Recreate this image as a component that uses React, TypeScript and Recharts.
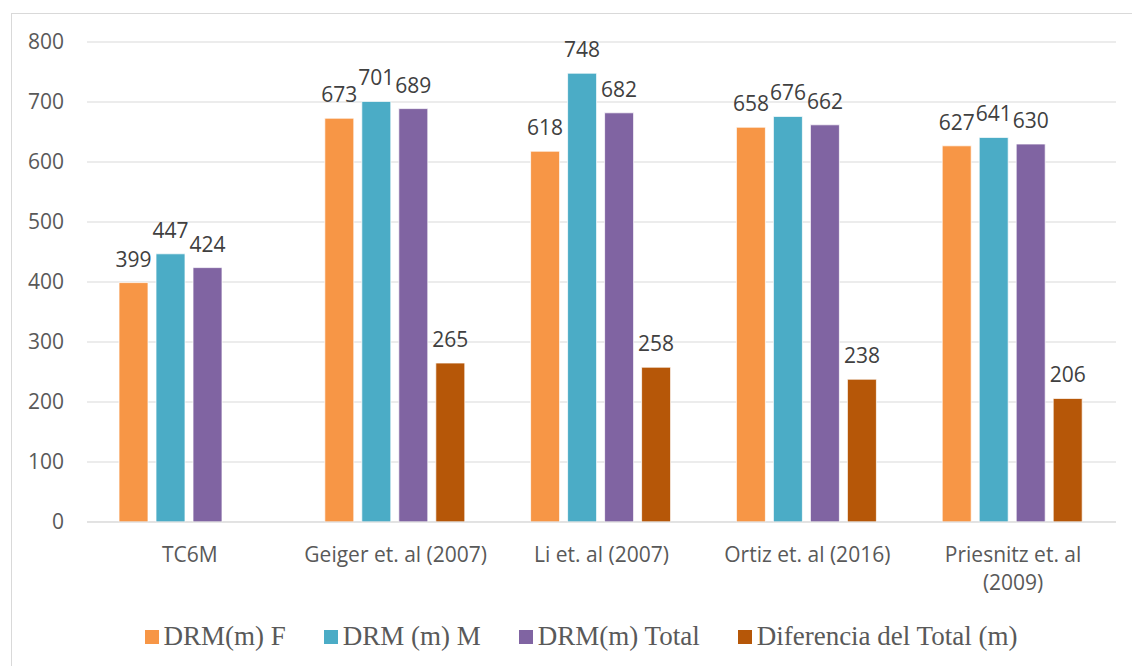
import React from "react";
import {
  BarChart,
  Bar,
  XAxis,
  YAxis,
  CartesianGrid,
  Legend,
  LabelList,
} from "recharts";

const categories = [
  "TC6M",
  "Geiger et. al (2007)",
  "Li et. al (2007)",
  "Ortiz et. al (2016)",
  "Priesnitz et. al (2009)",
];
const drmF = [399, 673, 618, 658, 627];
const drmM = [447, 701, 748, 676, 641];
const drmTotal = [424, 689, 682, 662, 630];
const diferencia = [null, 265, 258, 238, 206];
const yTicks = [0, 100, 200, 300, 400, 500, 600, 700, 800];

const SERIES = [
  { key: "f", name: "DRM(m) F", color: "#F79646" },
  { key: "m", name: "DRM (m) M", color: "#4BACC6" },
  { key: "t", name: "DRM(m) Total", color: "#8064A2" },
  { key: "d", name: "Diferencia del Total (m)", color: "#B65708" },
];

const data = categories.map((name, i) => ({
  name,
  f: drmF[i],
  m: drmM[i],
  t: drmTotal[i],
  d: diferencia[i],
}));

const SANS = "'Open Sans', sans-serif";

function CategoryTick({ x, y, payload }: any) {
  const label: string = payload.value;
  let lines = [label];
  if (label.length > 21) {
    const cut = label.lastIndexOf(" ");
    lines = [label.slice(0, cut), label.slice(cut + 1)];
  }
  return (
    <text
      x={x}
      y={y}
      textAnchor="middle"
      fill="#595959"
      fontSize={21}
      fontFamily={SANS}
    >
      {lines.map((l, i) => (
        <tspan key={i} x={x} dy={i === 0 ? 40 : 28}>
          {l}
        </tspan>
      ))}
    </text>
  );
}

function LegendContent() {
  return (
    <div
      style={{
        display: "flex",
        justifyContent: "center",
        alignItems: "center",
        height: 46,
        gap: 38,
        paddingLeft: 9,
        paddingTop: 3,
        boxSizing: "border-box",
        fontFamily: "'Liberation Serif', 'Times New Roman', serif",
        fontSize: 27,
        color: "#595959",
      }}
    >
      {SERIES.map((s) => (
        <div key={s.key} style={{ display: "flex", alignItems: "center" }}>
          <span
            style={{
              width: 14,
              height: 14,
              background: s.color,
              marginRight: 5,
              display: "inline-block",
            }}
          />
          <span style={{ whiteSpace: "nowrap" }}>{s.name}</span>
        </div>
      ))}
    </div>
  );
}

export default function App() {
  return (
    <div
      style={{
        position: "absolute",
        left: 0,
        top: 0,
        width: 1132,
        height: 666,
        background: "#fff",
        overflow: "hidden",
      }}
    >
      <div
        style={{
          position: "absolute",
          left: 11,
          top: 13,
          width: 1200,
          height: 700,
          border: "1px solid #d9d9d9",
        }}
      />
      <BarChart
        width={1132}
        height={666}
        data={data}
        margin={{ top: 42, right: 16, left: 37, bottom: 8 }}
        barCategoryGap={32}
        barGap={8}
      >
        <CartesianGrid vertical={false} stroke="#d9d9d9" strokeWidth={1} />
        <XAxis
          dataKey="name"
          height={90}
          tickLine={false}
          tickSize={0}
          tickMargin={0}
          axisLine={{ stroke: "#d9d9d9" }}
          tick={<CategoryTick />}
          interval={0}
        />
        <YAxis
          width={50}
          domain={[0, 800]}
          ticks={yTicks}
          tickLine={false}
          tickSize={0}
          tickMargin={23}
          axisLine={false}
          tick={{ fill: "#595959", fontSize: 21, fontFamily: SANS }}
        />
        <Legend
          verticalAlign="bottom"
          height={46}
          content={<LegendContent />}
        />
        {SERIES.map((s) => (
          <Bar
            key={s.key}
            dataKey={s.key}
            name={s.name}
            fill={s.color}
            stroke="#ffffff"
            strokeWidth={0.75}
            isAnimationActive={false}
          >
            <LabelList
              dataKey={s.key}
              position="top"
              offset={16}
              fill="#404040"
              fontSize={21}
              fontFamily={SANS}
            />
          </Bar>
        ))}
      </BarChart>
    </div>
  );
}
